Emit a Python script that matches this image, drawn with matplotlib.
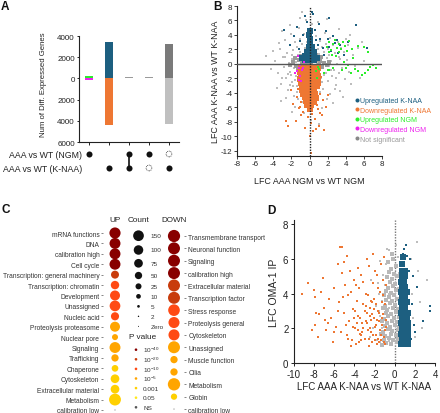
import numpy as np
import matplotlib
matplotlib.use('Agg')
import matplotlib.pyplot as plt
from matplotlib.lines import Line2D

plt.rcParams['font.family'] = ['Liberation Sans', 'DejaVu Sans']
plt.rcParams['axes.unicode_minus'] = False
plt.rcParams['mathtext.fontset'] = 'custom'
plt.rcParams['mathtext.rm'] = 'Liberation Sans'
plt.rcParams['mathtext.it'] = 'Liberation Sans:italic'
plt.rcParams['mathtext.bf'] = 'Liberation Sans:bold'

# ---------------- Panel A data ----------------
a_ngm_member = [1, 0, 1, 1, -1]      # 1 = in set, -1 = excluded (dashed), 0 = n/a
a_knaa_member = [0, 1, 1, -1, 1]
a_up = [250, 3400, 150, 100, 3250]
a_down = [120, 4400, 0, 0, 4300]
a_row_labels = ['AAA vs WT (NGM)', 'AAA vs WT (K-NAA)']

# ---------------- Panel B data ----------------
b_grey_x = [-3.8, -3.5, -3.3, -3.1, -2.9, -2.8, -2.7, -2.6, -2.5, -2.4, -2.3, -2.2, -2.1, -2.0, -1.9, -1.9, -1.8, -1.7, -1.7, -1.6,
            -1.5, -1.5, -1.4, -1.4, -1.3, -1.3, -1.2, -1.2, -1.1, -1.1, -1.0, -1.0, -0.9, -0.9, -0.8, -0.8, -0.7, -0.7, -0.6, -0.6,
            -0.5, -0.5, -0.4, -0.3, -0.3, -0.2, 0.0, 0.1, 0.2, 0.3, 0.4, 0.5, 0.5, 0.6, 0.7, 0.7, 0.8, 0.8, 0.9, 1.0,
            1.0, 1.1, 1.1, 1.2, 1.2, 1.3, 1.3, 1.4, 1.5, 1.5, 1.6, 1.7, 1.7, 1.8, 1.9, 2.0, 2.0, 2.1, 2.2, 2.3,
            2.3, 2.4, 2.5, 2.6, 2.7, 2.8, 2.9, 3.0, 3.1, 3.2, 3.3, 3.4, 3.5, 3.6, 3.8, 3.9, 4.1, 4.3, 4.4, 4.6,
            4.8, 5.0, 5.3, 5.6, 6.0, -4.3, -4.0, -3.6, -3.0, -2.6, -2.1, -1.6, -1.1, -0.6, 0.9, 1.4, 1.9, 2.6, 3.3, 3.7,
            4.5, -4.8, -3.2, 0.2, -1.9, 1.0, -0.8, 5.8, -0.2, 0.3, -2.2, 2.8, -1.3, 1.9, -3.4, 4.0,
            -1.6, -1.8, -1.4, -2.0, -1.2, 1.4, 1.6, 1.2, -2.7, -2.4, -1.9, 2.4, 1.8, 2.9, -3.0, 3.4]
b_grey_y = [0.4, -1.2, 2.1, -2.8, 0.9, -0.4, 3.3, -1.9, 1.5, -3.6, 0.1, 2.6, -1.1, 4.2, -2.5, 0.7, 1.9, -0.6, -4.4, 3.0,
            -1.6, 0.3, 2.4, -3.1, 1.2, -0.2, 4.9, -2.0, 0.8, 3.5, -0.9, 1.7, -3.8, 0.2, 2.8, -5.3, 1.1, -0.3, 4.1, 0.5,
            2.2, -0.1, 6.1, 0.8, 3.1, -0.2, 0.1, -0.3, 0.4, 5.5, -0.2, 2.6, 0.3, -0.5, 1.0, 3.9, -1.4, 0.1, 2.0, -0.7,
            0.6, -2.7, 1.4, 3.2, -0.1, -1.9, 0.9, 2.4, -0.5, -3.5, 1.6, 0.2, 4.3, -1.2, 0.8, -2.3, 2.0, -0.3, 1.2, -4.1,
            3.6, 0.4, -1.6, 2.6, -0.8, 1.5, -2.9, 0.0, 3.0, -1.3, 1.0, -3.7, 2.2, -0.5, 1.7, -2.1, 0.6, 2.6, -1.1, -2.8,
            1.3, -0.3, 2.2, -1.9, 0.4, -0.7, 1.8, -3.3, 4.5, -4.7, 5.4, -5.9, 6.3, -6.8, 5.8, -6.1, 6.2, -5.4, 4.8, -4.5,
            4.0, 1.1, -5.1, -7.8, -6.6, -8.3, 7.2, 3.1, 1.6, 1.9, -2.9, -3.4, -4.8, -4.9, 2.9, 3.4,
            -2.2, -3.0, -3.8, -1.5, -1.3, -2.5, -1.5, -3.9, 1.0, -1.4, 1.3, -0.9, 2.7, -1.9, -2.0, 0.7]
b_greycore_x = [-1.8, -1.5, -1.2, -1.0, -0.8, -0.6, -0.4, -0.2, 0.0, 0.2, 0.4, 0.6, 0.8, 1.0, 1.2, 1.4, 1.6, 1.9,
                -1.6, -1.3, 1.3, 0.9, -2.2, 2.2, -0.9, 0.7, -0.3, 0.3]
b_greycore_y = [0.3, -0.3, 0.6, -0.5, 0.2, -0.7, 0.3, -0.3, 0.2, -0.2, 0.4, -0.3, 0.5, -0.2, 0.4, -0.4, 0.2, -0.1,
                0.8, -0.8, 0.9, -0.9, -0.2, 0.3, 1.1, 1.2, -1.0, -1.1]
b_downk_core_x = [-0.9, -0.45, 0.0, 0.45, 0.9, -1.0, -0.5, -0.05, 0.4, 0.85, -0.95, -0.5, 0.0, 0.5, 0.95,
                  -1.0, -0.55, -0.1, 0.4, 0.9, -0.9, -0.45, 0.05, 0.5, 0.95, -0.85, -0.4, 0.0, 0.45, 0.8,
                  -0.8, -0.35, 0.1, 0.55, -0.7, -0.25, 0.2, 0.6, -0.55, -0.1, 0.35, 0.7, -0.4, 0.05, 0.45,
                  -0.25, 0.2, 0.0]
b_downk_core_y = [-0.6, -0.6, -0.6, -0.6, -0.6, -1.1, -1.1, -1.1, -1.1, -1.1, -1.6, -1.6, -1.6, -1.6, -1.6,
                  -2.1, -2.1, -2.1, -2.1, -2.1, -2.6, -2.6, -2.6, -2.6, -2.6, -3.1, -3.1, -3.1, -3.1, -3.1,
                  -3.6, -3.6, -3.6, -3.6, -4.1, -4.1, -4.1, -4.1, -4.6, -4.6, -4.6, -4.7, -5.1, -5.1, -5.2,
                  -5.6, -5.7, -6.2]
b_downk_x = [-1.3, 1.2, -1.1, 0.9, -0.7, 0.3, -0.2, 0.6, 1.4, -1.5, 0.2, 1.0, -0.5, 1.6, 0.4, -2.6, -2.4, 0.2, 1.2, -1.2,
             0.8, -0.9, 1.5, -1.4, 1.1, -1.3, 1.3, -1.2, 0.7, -0.9, 1.8, -1.8, 0.1, 2.0, -2.0]
b_downk_y = [-3.5, -4.2, -5.9, -6.2, -6.6, -6.9, -7.3, -7.6, -7.1, -7.9, -8.2, -8.5, -8.8, -9.1, -9.3, -7.9, -8.6, -12.3, -6.8, -6.1,
             -5.6, -5.3, -5.0, -4.6, -3.3, -2.4, -1.8, -1.0, -9.0, -7.0, -6.0, -5.5, -10.0, -4.3, -3.6]
b_upk_core_x = [-0.45, 0.0, 0.45, -0.5, -0.05, 0.4, -0.3, 0.15, 0.55, -0.1, 0.3, 0.05, 0.1, -0.05, 0.1, -0.85, 0.85]
b_upk_core_y = [0.55, 0.55, 0.55, 1.1, 1.1, 1.1, 1.7, 1.7, 1.6, 2.3, 2.3, 2.9, 3.5, 4.0, 4.6, 0.8, 0.8]
b_upk_x = [-1.0, -0.7, -1.4, -0.3, 0.6, 1.2, 0.9, 1.5, 2.0, 2.4, 2.8, 3.1, 3.4, 3.8, 2.6, 1.8, -0.5, 0.4, 2.2, 1.1,
           -1.7, -2.2, -1.2, 0.7, 3.0, 2.2, 1.6, 4.3, 5.1, -2.8, 6.3, 0.3]
b_upk_y = [3.2, 4.0, 5.1, 5.8, 4.7, 3.5, 2.6, 2.2, 3.4, 1.8, 2.9, 1.5, 2.6, 1.2, 3.8, 4.6, 6.6, 6.9, 6.4, 5.5,
           3.8, 2.6, 2.1, 3.3, 3.3, 2.4, 1.3, 3.1, 5.4, 4.7, 2.2, 7.2]
b_upn_x = [1.9, 2.2, 2.4, 2.6, 2.8, 3.0, 3.2, 3.3, 3.5, 3.7, 3.9, 2.5, 2.1, 2.9, 4.1, 4.4, 4.7, 5.3, 6.5, 6.0,
           4.0, 4.3, 3.6, 5.0, 5.4, 6.1, 6.7, 7.3, 5.8, 6.4, 7.0, 4.6, 0.9, 0.7, 1.1, 2.0, 2.6, 1.6, 3.8, 0.8,
           2.2, 4.8]
b_upn_y = [2.4, 3.0, 1.9, 2.7, 3.3, 2.2, 1.6, 2.8, 2.1, 3.1, 2.5, 1.3, 1.6, 1.1, 1.8, 3.2, 2.0, 2.5, 1.6, 2.3,
           -0.6, -0.2, -0.9, -0.7, -1.0, -1.3, -0.4, -0.5, -1.5, -0.9, -0.2, -1.3, -0.4, -1.0, -0.7, -0.8, -0.6, -1.3, 0.3, -2.0,
           -0.9, 0.8]
b_downn_x = [-1.2, -1.0, -0.7, -1.4, -1.1, -0.9, -1.3, -1.6, -0.8, -1.2, -0.6]
b_downn_y = [-0.6, -0.2, -0.5, -1.0, -1.7, -2.4, 1.1, -1.3, -0.9, -2.2, 0.3]
b_legend_labels = ['Upregulated K-NAA', 'Downregulated K-NAA', 'Upregulated NGM',
                   'Downregulated NGM', 'Not significant']

# ---------------- Panel C data ----------------
up_labels = ['mRNA functions', 'DNA', 'calibration high', 'Cell cycle', 'Transcription: general machinery',
             'Transcription: chromatin', 'Development', 'Unassigned', 'Nucleic acid', 'Proteolysis proteasome',
             'Nuclear pore', 'Signaling', 'Trafficking', 'Chaperone', 'Cytoskeleton', 'Extracellular material',
             'Metabolism', 'calibration low']
up_counts = [170, 160, 160, 160, 62, 70, 120, 150, 65, 120, 25, 160, 50, 38, 75, 75, 200, 0]
up_p = ['1e-40', '1e-40', '1e-40', '1e-40', '1e-20', '1e-10', '1e-10', '1e-10', '1e-10', '1e-5',
        '1e-5', '1e-5', '1e-5', '0.001', '0.001', '0.001', '0.001', 'NS']
down_labels = ['Transmembrane transport', 'Neuronal function', 'Signaling', 'calibration high',
               'Extracellular material', 'Transcription factor', 'Stress response', 'Proteolysis general',
               'Cytoskeleton', 'Unassigned', 'Muscle function', 'Cilia', 'Metabolism', 'Globin', 'calibration low']
down_counts = [215, 205, 205, 205, 205, 205, 190, 165, 165, 205, 50, 50, 220, 30, 0]
down_p = ['1e-40', '1e-40', '1e-40', '1e-40', '1e-20', '1e-20', '1e-10', '1e-10', '1e-10',
          '1e-5', '1e-5', '1e-5', '1e-5', '0.001', 'NS']
count_keys = [150, 100, 75, 50, 25, 10, 5, 2, 0]
count_key_labels = ['150', '100', '75', '50', '25', '10', '5', '2', 'Zero']
p_keys = ['1e-40', '1e-20', '1e-10', '1e-5', '0.001', '0.05', 'NS']
p_key_labels = ['10$^{-40}$', '10$^{-20}$', '10$^{-10}$', '10$^{-5}$', '0.001', '0.05', 'NS']

# ---------------- Panel D data ----------------
d_down_x = [-9.2, -8.6, -8.0, -7.9, -7.8, -7.9, -7.5, -7.1, -7.0, -6.8, -6.5, -6.3, -6.1, -6.0, -5.8, -5.6, -5.5, -5.4, -5.2, -5.2,
            -5.0, -5.0, -4.9, -4.7, -4.6, -4.5, -4.4, -4.2, -4.1, -4.0, -3.9, -3.8, -3.7, -3.6, -3.5, -3.4, -3.3, -3.2, -3.1, -3.0,
            -2.9, -2.8, -2.7, -2.6, -2.5, -2.4, -2.3, -2.2, -2.1, -2.0, -1.9, -1.8, -1.7, -1.6, -1.5, -1.4, -1.3, -1.2, -1.1, -1.0,
            -0.9, -2.6, -3.3, -4.3, -1.8, -2.9, -3.6, -2.3, -1.5, -1.9, -2.7, -3.9, -4.8, -5.3, -6.6, -7.3, -8.2, -3.1, -2.0, -1.2,
            -0.9, -1.0, -1.6, -2.2, -2.5, -3.4, -4.1, -4.6, -3.0, -2.1, -1.3, -1.1, -0.95, -1.7, -2.4, -3.8, -6.0, -5.6, -6.9, -7.6,
            -4.3, -5.1, -2.8, -3.6, -1.4, -4.7, -2.2, -1.1, -1.4, -1.9, -2.6, -3.2, -1.6, -2.0, -2.8, -3.5, -1.2, -0.9, -2.4, -1.7,
            -3.7, -2.9, -2.1, -1.3, -3.3, -2.5, -1.8, -4.0, -3.1, -2.3]
d_down_y = [4.0, 4.6, 4.2, 3.8, 2.9, 2.2, 2.8, 4.9, 3.2, 1.9, 3.7, 2.6, 1.2, 4.3, 2.1, 5.7, 3.5, 6.7, 6.7, 5.2,
            2.9, 5.8, 4.5, 1.6, 3.9, 2.4, 5.3, 1.3, 3.1, 4.8, 2.0, 1.1, 3.6, 2.7, 4.3, 1.7, 5.1, 2.3, 3.4, 1.4,
            4.0, 2.9, 1.9, 5.6, 3.2, 2.5, 1.2, 4.6, 3.7, 2.1, 1.6, 5.1, 3.0, 2.4, 4.1, 1.3, 3.5, 2.8, 6.1, 1.9,
            4.5, 1.0, 1.3, 1.0, 1.1, 2.4, 1.9, 2.8, 1.9, 3.4, 3.9, 3.0, 2.2, 1.8, 2.3, 4.1, 1.9, 4.7, 5.3, 4.8,
            2.5, 3.4, 2.9, 1.6, 2.0, 2.6, 2.1, 1.4, 3.0, 2.6, 2.2, 1.5, 1.1, 4.3, 3.6, 4.5, 1.8, 3.0, 2.5, 1.5,
            4.1, 3.8, 6.0, 5.5, 5.7, 6.2, 6.3, 1.2, 1.6, 2.2, 1.4, 1.8, 1.2, 1.3, 2.3, 1.2, 3.9, 2.1, 1.8, 1.4,
            2.3, 3.3, 3.1, 2.6, 1.6, 2.7, 2.5, 2.6, 2.0, 3.5]
d_grey_x = [-1.25, -0.85, -0.35, 0.25, -1.05, -0.6, -0.15, 0.35, -1.4, -0.95, -0.4, 0.15, -1.15, -0.7, -0.25, 0.3,
            -1.0, -0.45, 0.05, 0.45, -1.3, -0.8, -0.3, 0.2, -1.1, -0.65, -0.1, 0.4, -0.9, -0.35, 0.1,
            -1.2, -0.75, -0.2, 0.3, -1.0, -0.5, 0.0, -0.85, -0.3, 0.2, -1.1, -0.6, -0.1, -0.9, -0.4, 0.15,
            -0.7, -0.2, -0.5, 0.05, -0.8, -0.3, 0.2, -0.6, -0.1, -0.4, 0.1, -0.7, -0.2, -0.3]
d_grey_y = [1.05, 1.15, 1.1, 1.2, 1.3, 1.45, 1.35, 1.4, 1.65, 1.55, 1.7, 1.6, 1.8, 1.95, 1.85, 1.9,
            2.15, 2.05, 2.2, 2.1, 2.4, 2.3, 2.45, 2.35, 2.55, 2.7, 2.6, 2.65, 2.9, 2.8, 2.95,
            3.15, 3.05, 3.2, 3.1, 3.3, 3.45, 3.35, 3.65, 3.55, 3.7, 3.9, 3.8, 3.95, 4.15, 4.05, 4.2,
            4.3, 4.45, 4.65, 4.55, 4.95, 4.85, 5.0, 5.25, 5.15, 5.45, 5.6, 5.85, 6.0, 6.3]
d_grey_sparse_x = [-1.8, -2.2, -1.9, -2.5, -1.7, -2.4, -1.5, 2.2, -0.8, 0.1, 1.7, 2.3, 1.8, 2.5, 3.2, 2.0, 2.7, 1.6,
                   -1.5, -0.55, 0.5, -1.3, -0.15, 0.55, -1.45, -0.6, 0.45, -1.3, -0.55, 0.35, -1.0, -1.2, 0.4, -0.9,
                   0.3, -0.6, -1.6, -1.6]
d_grey_sparse_y = [1.3, 2.0, 3.3, 1.5, 4.6, 4.8, 5.9, 7.0, 6.6, 6.8, 4.0, 5.3, 2.6, 3.5, 4.8, 1.5, 2.0, 6.0,
                   1.2, 1.25, 1.6, 2.0, 2.5, 2.9, 2.7, 3.2, 3.5, 3.6, 4.0, 4.3, 4.5, 5.1, 5.2, 5.7,
                   6.1, 6.5, 3.0, 4.0]
d_up_core_x = [0.65, 1.0, 1.3, 0.7, 1.05, 1.35, 0.65, 1.0, 1.3, 0.7, 1.05, 1.3, 0.65, 1.0, 1.3, 0.7, 1.0, 1.25,
               0.65, 1.0, 1.3, 0.7, 1.05, 0.65, 1.0, 1.25, 0.7, 1.0, 0.65, 1.0, 1.2, 0.7, 1.0, 0.65, 0.95,
               0.7, 1.0, 0.7, 1.0, 0.75, 0.85]
d_up_core_y = [1.1, 1.1, 1.1, 1.4, 1.4, 1.4, 1.7, 1.7, 1.7, 2.0, 2.0, 2.0, 2.3, 2.3, 2.3, 2.6, 2.6, 2.6,
               2.9, 2.9, 2.9, 3.2, 3.2, 3.5, 3.5, 3.5, 3.8, 3.8, 4.1, 4.1, 4.1, 4.4, 4.4, 4.7, 4.7,
               5.0, 5.0, 5.3, 5.3, 5.7, 6.1]
d_up_x = [1.5, 0.9, 1.1, 1.7, 1.9, 2.2, 2.8, 3.5, 3.5, 1.6, 1.4, 2.0, 0.8, 1.2, 1.8]
d_up_y = [6.0, 6.6, 6.8, 3.4, 2.2, 4.4, 2.4, 3.3, 3.0, 1.4, 5.3, 1.8, 6.3, 6.2, 5.0]

# ---------------- styling ----------------
C_BLUE = '#1d5f80'
C_ORANGE = '#ee7733'
C_GREEN = '#2bee2b'
C_MAGENTA = '#ee22ee'
C_GREY = '#bdbdbd'
P_COLORS = {'1e-40': '#880000', '1e-20': '#c83c0c', '1e-10': '#ff4a14', '1e-5': '#ffa500',
            '0.001': '#ffd000', '0.05': '#ffe81a', 'NS': '#555555'}
TXT = '#222222'
W, H = 440, 414

fig = plt.figure(figsize=(W / 100, H / 100), dpi=100)


def ax_px(left, top, right, bottom):
    return fig.add_axes([left / W, 1 - bottom / H, (right - left) / W, (bottom - top) / H])


def basic_spines(ax, lw=0.8):
    for s in ['top', 'right']:
        ax.spines[s].set_visible(False)
    for s in ['left', 'bottom']:
        ax.spines[s].set_linewidth(lw)
        ax.spines[s].set_color('#222222')


# ---------------- Panel A ----------------
axA = ax_px(79, 37, 179, 143)
xa = np.arange(len(a_up))
up_cols = [C_GREEN, C_BLUE, '#9a9a9a', '#9a9a9a', '#7a7a7a']
dn_cols = [C_MAGENTA, C_ORANGE, '#9a9a9a', '#9a9a9a', '#c0c0c0']
axA.bar(xa, a_up, width=0.4, color=up_cols, linewidth=0)
axA.bar(xa, [-v for v in a_down], width=0.4, color=dn_cols, linewidth=0)
axA.set_xlim(-0.5, 4.5)
axA.set_ylim(-6000, 4000)
yt = [4000, 2000, 0, -2000, -4000, -6000]
axA.set_yticks(yt)
axA.set_yticklabels([str(abs(v)) for v in yt], fontsize=5.8, color=TXT)
axA.set_xticks(xa)
axA.set_xticklabels([])
axA.tick_params(axis='y', length=1.5, width=0.6, pad=1.5)
axA.tick_params(axis='x', length=2, width=0.6)
basic_spines(axA)
axA.set_ylabel('Num of Diff. Expressed Genes', fontsize=5.6, color=TXT)
axA.yaxis.set_label_coords(-0.32, 0.55)

axM = ax_px(79, 148, 179, 176)
axM.set_xlim(-0.5, 4.5)
axM.set_ylim(1.5, -0.5)
for j in range(len(a_up)):
    rows = [a_ngm_member[j], a_knaa_member[j]]
    filled = [r for r, m in enumerate(rows) if m == 1]
    if len(filled) > 1:
        axM.plot([j, j], [min(filled), max(filled)], color='#111111', lw=1.2, zorder=1)
    for r, m in enumerate(rows):
        if m == 1:
            axM.scatter([j], [r], s=19, color='#111111', linewidths=0, zorder=2)
        elif m == -1:
            axM.scatter([j], [r], s=17, facecolors='none', edgecolors='#333333',
                        linewidths=0.6, linestyle=(0, (1, 1)), zorder=2)
axM.set_yticks([0, 1])
axM.set_yticklabels(a_row_labels, fontsize=6.3, color=TXT)
axM.tick_params(axis='y', length=0, pad=-2.5)
axM.set_xticks([])
for s in axM.spines.values():
    s.set_visible(False)
axM.patch.set_alpha(0)

# ---------------- Panel B ----------------
axB = ax_px(237, 7, 382, 157)
axB.scatter(b_grey_x, b_grey_y, s=2.6, marker='s', color=C_GREY, linewidths=0, zorder=2)
axB.scatter(b_greycore_x, b_greycore_y, s=9, marker='s', color='#9a9a9a', linewidths=0, zorder=2)
axB.scatter(b_downk_core_x, b_downk_core_y, s=13, marker='s', color=C_ORANGE, linewidths=0, zorder=3)
axB.scatter(b_downk_x, b_downk_y, s=2.2, marker='s', color=C_ORANGE, linewidths=0, zorder=3)
axB.scatter(b_upk_core_x, b_upk_core_y, s=13, marker='s', color=C_BLUE, linewidths=0, zorder=3)
axB.scatter(b_upk_x, b_upk_y, s=2.2, marker='s', color=C_BLUE, linewidths=0, zorder=3)
axB.scatter(b_upn_x, b_upn_y, s=2.6, marker='s', color=C_GREEN, linewidths=0, zorder=4)
axB.scatter(b_downn_x, b_downn_y, s=2.6, marker='s', color=C_MAGENTA, linewidths=0, zorder=4)
axB.axhline(0, color='#555555', lw=1.0, zorder=5)
axB.axvline(0, color='#222222', lw=1.0, ls=(0, (1, 1)), zorder=5)
axB.set_xlim(-8, 8)
axB.set_ylim(-12.7, 8)
axB.set_xticks(np.arange(-8, 9, 2))
axB.set_yticks(np.arange(-12, 9, 2))
axB.tick_params(labelsize=5.8, length=2, width=0.6, pad=1.2, colors=TXT)
basic_spines(axB)
axB.set_xlabel('LFC AAA NGM vs WT NGM', fontsize=6.4, color=TXT, labelpad=6)
axB.set_ylabel('LFC AAA K-NAA vs WT K-NAA', fontsize=6.4, color=TXT, labelpad=1)
leg_cols = [C_BLUE, C_ORANGE, C_GREEN, C_MAGENTA, '#888888']
leg_txt = [C_BLUE, C_ORANGE, C_GREEN, C_MAGENTA, '#999999']
handles = [Line2D([], [], ls='none', marker='o', markersize=2.9, markerfacecolor=c,
                  markeredgewidth=0) for c in leg_cols]
fig.legend(handles, b_legend_labels, loc='upper left', bbox_to_anchor=(355 / W, 1 - 98 / H),
           frameon=False, fontsize=5.0, handletextpad=0.1, handlelength=0.6,
           labelspacing=0.38, borderpad=0, borderaxespad=0, labelcolor=leg_txt)

# ---------------- Panel C ----------------
c_tab = [0, 2, 5, 10, 25, 50, 75, 100, 150, 250]
d_tab = [1.0, 1.4, 2.7, 4.7, 6.0, 7.3, 8.7, 9.5, 10.7, 13.0]


def bubble_s(counts):
    d = np.interp(counts, c_tab, d_tab)
    return (d * 0.72) ** 2


axU = ax_px(103, 226, 127, 414)
nu = len(up_labels)
axU.scatter(np.zeros(nu), np.arange(nu), s=bubble_s(up_counts),
            c=[P_COLORS[p] for p in up_p], linewidths=0)
axU.set_xlim(-1, 1)
axU.set_ylim(17.29, -0.77)
axU.set_yticks(np.arange(nu))
axU.set_yticklabels(up_labels, fontsize=4.8, color='#333333')
axU.tick_params(axis='y', length=1.5, width=0.5, pad=1.2, color='#555555')
axU.set_xticks([])
for s in axU.spines.values():
    s.set_visible(False)
axU.patch.set_alpha(0)

axDn = ax_px(164, 226, 184, 414)
nd = len(down_labels)
axDn.scatter(np.zeros(nd), np.arange(nd), s=bubble_s(down_counts),
             c=[P_COLORS[p] for p in down_p], linewidths=0)
axDn.set_xlim(-1, 1)
axDn.set_ylim(14.32, -0.89)
axDn.yaxis.tick_right()
axDn.set_yticks(np.arange(nd))
axDn.set_yticklabels(down_labels, fontsize=4.8, color='#333333')
axDn.tick_params(axis='y', length=1.5, width=0.5, pad=1.5, color='#555555')
axDn.set_xticks([])
for s in axDn.spines.values():
    s.set_visible(False)
axDn.patch.set_alpha(0)

axK = ax_px(100, 210, 200, 414)
axK.set_xlim(100, 200)
axK.set_ylim(414, 210)
axK.axis('off')
axK.patch.set_alpha(0)
hdr = dict(fontsize=5.9, color='#222222', ha='center', va='center')
axK.text(115, 221, 'UP', **hdr)
axK.text(138.5, 221, 'Count', **hdr)
axK.text(174, 221, 'DOWN', **hdr)
kd = np.interp(count_keys, c_tab, d_tab)
ky = [236.7]
for i in range(len(count_keys) - 1):
    ky.append(ky[-1] + max(10.0, (kd[i] + kd[i + 1]) / 2 + 4.2))
axK.scatter([138.5] * len(count_keys), ky, s=bubble_s(count_keys), color='#111111', linewidths=0)
for yv, lab in zip(ky, count_key_labels):
    axK.text(150.5, yv, lab, fontsize=4.6, color='#333333', ha='left', va='center')
axK.text(142.5, 337.3, 'P value', **hdr)
py = [350.7 + 9.6 * i for i in range(len(p_keys))]
axK.scatter([136] * len(p_keys), py, s=(2.6 * 0.72) ** 2, c=[P_COLORS[p] for p in p_keys], linewidths=0)
for yv, lab in zip(py, p_key_labels):
    axK.text(143, yv, lab, fontsize=4.6, color='#333333', ha='left', va='center')

# ---------------- Panel D ----------------
axD = ax_px(294, 221, 435, 364)
axD.axvline(0, color='#777777', lw=1.0, ls=(0, (1, 1)), zorder=1)
axD.scatter(d_grey_x, d_grey_y, s=5, marker='s', color='#b8b8b8', linewidths=0, zorder=2)
axD.scatter(d_grey_sparse_x, d_grey_sparse_y, s=2.5, marker='s', color=C_GREY, linewidths=0, zorder=2)
axD.scatter(d_down_x, d_down_y, s=3.5, marker='s', color=C_ORANGE, linewidths=0, zorder=3)
axD.scatter(d_up_core_x, d_up_core_y, s=15, marker='s', color=C_BLUE, linewidths=0, zorder=3)
axD.scatter(d_up_x, d_up_y, s=3.5, marker='s', color=C_BLUE, linewidths=0, zorder=3)
axD.set_xlim(-10, 4)
axD.set_ylim(0, 8.25)
axD.set_xticks(np.arange(-10, 5, 2))
axD.set_yticks(np.arange(0, 9, 2))
axD.tick_params(labelsize=7, length=2.5, width=0.7, pad=1.5, colors=TXT)
basic_spines(axD)
axD.set_xlabel('LFC AAA K-NAA vs WT K-NAA', fontsize=7, color=TXT, labelpad=2)
axD.set_ylabel('LFC OMA-1 IP', fontsize=7.5, color=TXT, labelpad=3)

# ---------------- panel letters ----------------
for lab, (px, py_) in zip(['A', 'B', 'C', 'D'], [(1, 1), (213, 1), (1, 204), (267, 205)]):
    fig.text(px / W, 1 - py_ / H, lab, fontsize=8.5, fontweight='bold', ha='left', va='top', color='#111111')

fig.savefig('out.png', dpi=100)
